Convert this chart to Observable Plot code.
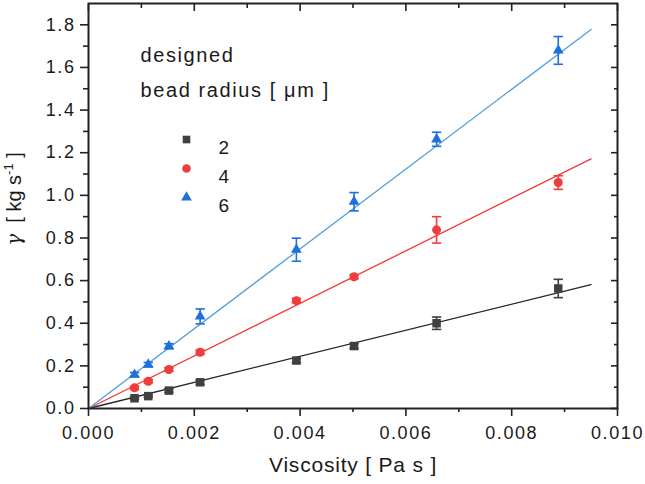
<!DOCTYPE html>
<html>
<head>
<meta charset="utf-8">
<script src="https://cdn.jsdelivr.net/npm/d3@7"></script>
<script src="https://cdn.jsdelivr.net/npm/@observablehq/plot@0.6"></script>
<style>
  html, body { margin: 0; padding: 0; background: #fff; }
  #chart { width: 645px; height: 484px; }
  #chart svg { display: block; }
  g[aria-label="x-axis tick label"] text,
  g[aria-label="y-axis tick label"] text { letter-spacing: 1.6px; }
  .legtitle { letter-spacing: 1.6px; }
  .xtitle { letter-spacing: 0.8px; }
</style>
</head>
<body>
<div id="chart"></div>
<script>
// ---- data ----
const viscosity = [0.00087, 0.00113, 0.00152, 0.00211, 0.00393, 0.00502, 0.00658, 0.00888];
const gamma2 = [0.048, 0.058, 0.084, 0.123, 0.225, 0.293, 0.400, 0.563];
const gamma4 = [0.097, 0.128, 0.183, 0.264, 0.506, 0.618, 0.838, 1.060];
const gamma6 = [0.159, 0.206, 0.292, 0.432, 0.745, 0.970, 1.263, 1.680];
const err2 = [0.005, 0.005, 0.008, 0.010, 0.010, 0.012, 0.029, 0.043];
const err4 = [0.008, 0.008, 0.008, 0.010, 0.010, 0.010, 0.062, 0.032];
const err6 = [0.010, 0.010, 0.012, 0.035, 0.054, 0.043, 0.033, 0.065];
const radii = ["2", "4", "6"];
const fitSlopes = [61.2, 123.3, 187.2];
const fitXEnd = 0.0095;
const symbols = ["square", "circle", "triangle"];
const markerColors = ["#404040", "#ef3c3c", "#1f6fdc"];
const lineColors = ["#262626", "#f23838", "#4f9fdc"];
const xMajor = [0, 0.002, 0.004, 0.006, 0.008, 0.010];
const xMinor = [0.001, 0.003, 0.005, 0.007, 0.009];
const yMajor = [0, 0.2, 0.4, 0.6, 0.8, 1.0, 1.2, 1.4, 1.6, 1.8];
const yMinor = [0.1, 0.3, 0.5, 0.7, 0.9, 1.1, 1.3, 1.5, 1.7];
const legendTitle = ["designed", "bead radius [ \u03bcm ]"];
const xTitle = "Viscosity [ Pa s ]";

const series = [gamma2, gamma4, gamma6].map((g, i) =>
  viscosity.map((v, j) => ({x: v, y: g[j], e: [err2, err4, err6][i][j]}))
);
const fits = fitSlopes.map(s => [{x: 0, y: 0}, {x: fitXEnd, y: s * fitXEnd}]);

const capSymbol = {
  draw(context, size) {
    const w = Math.sqrt(size / Math.PI);
    context.moveTo(-w, 0);
    context.lineTo(w, 0);
  }
};

const FONT = "Liberation Sans, Arial, sans-serif";
const marks = [];

// fit lines
fits.forEach((f, i) => {
  marks.push(Plot.line(f, {x: "x", y: "y", stroke: lineColors[i], strokeWidth: 1.3}));
});
// error bars + markers
series.forEach((s, i) => {
  marks.push(Plot.ruleX(s, {x: "x", y1: d => d.y - d.e, y2: d => d.y + d.e, stroke: markerColors[i], strokeWidth: 1.6}));
  marks.push(Plot.dot(s, {x: "x", y: d => d.y - d.e, symbol: capSymbol, r: 4.7, stroke: markerColors[i], strokeWidth: 1.6}));
  marks.push(Plot.dot(s, {x: "x", y: d => d.y + d.e, symbol: capSymbol, r: 4.7, stroke: markerColors[i], strokeWidth: 1.6}));
  const r = [4.8, 4.5, 4.0][i];
  marks.push(Plot.dot(s, {x: "x", y: "y", symbol: symbols[i], r, fill: markerColors[i], stroke: "none"}));
});

// axes: bottom (outward), left (outward), top & right (inward)
marks.push(Plot.axisX({ticks: xMajor, tickSize: 8, tickPadding: 10, tickFormat: d3.format(".3f"), fontSize: 18, label: null, stroke: "#222", strokeWidth: 1.6}));
marks.push(Plot.axisX({ticks: xMinor, tickSize: 4, tickFormat: () => "", label: null, stroke: "#222", strokeWidth: 1.6}));
marks.push(Plot.axisX({anchor: "top", ticks: xMajor, tickSize: -7, tickFormat: () => "", label: null, stroke: "#222", strokeWidth: 1.6}));
marks.push(Plot.axisX({anchor: "top", ticks: xMinor, tickSize: -4, tickFormat: () => "", label: null, stroke: "#222", strokeWidth: 1.6}));
marks.push(Plot.axisY({ticks: yMajor, tickSize: 8, tickPadding: 5, tickFormat: d3.format(".1f"), fontSize: 18, label: null, stroke: "#222", strokeWidth: 1.6}));
marks.push(Plot.axisY({ticks: yMinor, tickSize: 5, tickFormat: () => "", label: null, stroke: "#222", strokeWidth: 1.6}));
marks.push(Plot.axisY({anchor: "right", ticks: yMajor, tickSize: -7, tickFormat: () => "", label: null, stroke: "#222", strokeWidth: 1.6}));
marks.push(Plot.axisY({anchor: "right", ticks: yMinor, tickSize: -4, tickFormat: () => "", label: null, stroke: "#222", strokeWidth: 1.6}));
marks.push(Plot.frame({stroke: "#222", strokeWidth: 2}));

// legend
marks.push(Plot.text([legendTitle[0]], {text: d => d, frameAnchor: "top-left", dx: 52, dy: 44, textAnchor: "start", fontSize: 20, fill: "#1a1a1a", className: "legtitle"}));
marks.push(Plot.text([legendTitle[1]], {text: d => d, frameAnchor: "top-left", dx: 52, dy: 79, textAnchor: "start", fontSize: 20, fill: "#1a1a1a", className: "legtitle"}));
radii.forEach((lab, i) => {
  marks.push(Plot.dot([lab], {frameAnchor: "top-left", dx: 98, dy: 136 + i * 29, symbol: symbols[i], r: [4.3, 4.3, 4.0][i], fill: markerColors[i], stroke: "none"}));
  marks.push(Plot.text([lab], {text: d => d, frameAnchor: "top-left", dx: 130, dy: 137 + i * 29, textAnchor: "start", fontSize: 19, fill: "#1a1a1a"}));
});
// x title
marks.push(Plot.text([xTitle], {text: d => d, frameAnchor: "bottom", dy: 63, fontSize: 21, fill: "#1a1a1a", className: "xtitle"}));

const chart = Plot.plot({
  width: 645,
  height: 484,
  marginLeft: 88,
  marginRight: 28,
  marginTop: 3,
  marginBottom: 76,
  x: {domain: [0, 0.010], label: null},
  y: {domain: [0, 1.9], label: null},
  style: {fontFamily: FONT, fontSize: "18px", color: "#1a1a1a", background: "#fff", overflow: "visible"},
  marks
});
document.getElementById("chart").appendChild(chart);

// y-axis title with italic gamma and superscript
const svg = d3.select(chart);
const yt = svg.append("text")
  .attr("transform", "translate(21,199) rotate(-90)")
  .attr("text-anchor", "middle")
  .attr("font-family", FONT)
  .attr("font-size", 20)
  .attr("fill", "#1a1a1a");
yt.append("tspan").attr("font-style", "italic").attr("font-family", "DejaVu Serif, serif").text("\u03b3");
yt.append("tspan").text("\u00a0\u00a0[ kg s");
yt.append("tspan").attr("font-size", 13).attr("dy", -8).text("-1");
yt.append("tspan").attr("dy", 8).text(" ]");
</script>
</body>
</html>
